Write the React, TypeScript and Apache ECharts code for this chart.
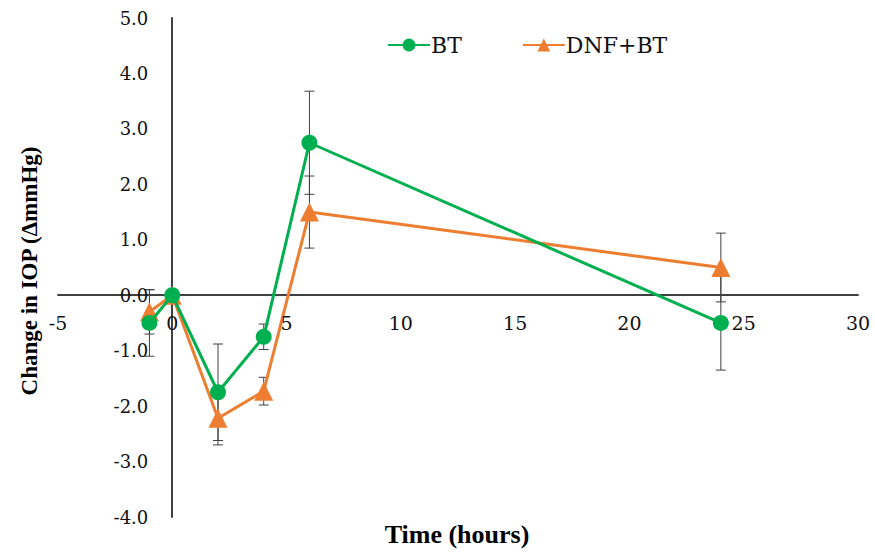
import React, { useEffect, useRef } from "react";
import * as echarts from "echarts";

const times = [-1, 0, 2, 4, 6, 24];
const btMean = [-0.5, 0, -1.75, -0.75, 2.75, -0.5];
const btErr = [0.6, 0, 0.87, 0.23, 0.93, 0.85];
const dnfMean = [-0.3, 0, -2.22, -1.73, 1.5, 0.5];
const dnfErr = [0.4, 0, 0.48, 0.25, 0.65, 0.62];
const seriesNames = ["BT", "DNF+BT"];
const xTicks = [-5, 0, 5, 10, 15, 20, 25, 30];
const yTicks = [-4, -3, -2, -1, 0, 1, 2, 3, 4, 5];
const xTitle = "Time (hours)";
const yTitle = "Change in IOP (\u0394mmHg)";

const TITLE_FONT = "Liberation Serif";
const LABEL_FONT = "DejaVu Serif";
const GREEN = "#00B050";
const ORANGE = "#ED7D31";

function errData(mean: number[], err: number[]) {
  return times.map((t, i) => [t, mean[i] - err[i], mean[i] + err[i]]);
}

function errRender(params: any, api: any) {
  const x = api.value(0);
  const lo = api.coord([x, api.value(1)]);
  const hi = api.coord([x, api.value(2)]);
  if (Math.abs(hi[1] - lo[1]) < 0.5) return { type: "group", children: [] };
  const w = 5;
  const style = { stroke: "#404040", lineWidth: 1 };
  return {
    type: "group",
    children: [
      { type: "line", shape: { x1: lo[0], y1: lo[1], x2: hi[0], y2: hi[1] }, style },
      { type: "line", shape: { x1: lo[0] - w, y1: lo[1], x2: lo[0] + w, y2: lo[1] }, style },
      { type: "line", shape: { x1: hi[0] - w, y1: hi[1], x2: hi[0] + w, y2: hi[1] }, style },
    ],
  };
}

export default function App() {
  const ref = useRef<HTMLDivElement>(null);
  useEffect(() => {
    if (!ref.current) return;
    document.body.style.margin = "0";
    const chart = echarts.init(ref.current, null, { renderer: "svg" });
    chart.setOption({
      animation: false,
      backgroundColor: "#fff",
      grid: { left: 58, right: 17, top: 18, bottom: 35, containLabel: false },
      legend: {
        top: 29,
        left: 382,
        itemGap: 60,
        itemWidth: 42,
        itemHeight: 16,
        textStyle: { fontFamily: LABEL_FONT, fontSize: 22, color: "#111", padding: [0, 0, 0, -4] },
        data: seriesNames,
      },
      xAxis: {
        type: "value",
        min: -5,
        max: 30,
        interval: 5,
        position: "bottom",
        offset: -222,
        splitLine: { show: false },
        axisTick: { show: false },
        axisLine: { onZero: false, lineStyle: { color: "#404040", width: 2 } },
        axisLabel: { show: false },
      },
      yAxis: {
        type: "value",
        min: -4,
        max: 5,
        interval: 1,
        position: "left",
        offset: -114,
        splitLine: { show: false },
        axisTick: { show: false },
        axisLine: { onZero: false, lineStyle: { color: "#404040", width: 2 } },
        axisLabel: { show: false },
      },
      series: [
        {
          type: "custom",
          name: "btErr",
          renderItem: errRender,
          data: errData(btMean, btErr),
          z: 1,
          silent: true,
        },
        {
          type: "custom",
          name: "dnfErr",
          renderItem: errRender,
          data: errData(dnfMean, dnfErr),
          z: 1,
          silent: true,
        },
        {
          type: "line",
          name: seriesNames[0],
          data: times.map((t, i) => [t, btMean[i]]),
          symbol: "circle",
          symbolSize: 16,
          lineStyle: { color: GREEN, width: 3 },
          itemStyle: { color: GREEN },
          z: 3,
        },
        {
          type: "line",
          name: seriesNames[1],
          data: times.map((t, i) => [t, dnfMean[i]]),
          symbol: "triangle",
          symbolSize: 19,
          lineStyle: { color: ORANGE, width: 3 },
          itemStyle: { color: ORANGE },
          z: 2,
        },
      ],
    });

    const graphics: any[] = [
      {
        type: "text",
        x: 457,
        y: 534,
        style: {
          text: xTitle,
          fontFamily: TITLE_FONT,
          fontSize: 26,
          fontWeight: "bold",
          fill: "#000",
          align: "center",
          verticalAlign: "middle",
        },
      },
      {
        type: "text",
        x: 29,
        y: 271,
        rotation: Math.PI / 2,
        style: {
          text: yTitle,
          fontFamily: TITLE_FONT,
          fontSize: 23,
          fontWeight: "bold",
          fill: "#000",
          align: "center",
          verticalAlign: "middle",
        },
      },
    ];
    xTicks.forEach((v) => {
      const p: any = chart.convertToPixel({ gridIndex: 0 } as any, [v, 0]);
      if (!p) return;
      graphics.push({
        type: "text",
        x: p[0],
        y: p[1] + 28,
        z: 10,
        style: {
          text: String(v),
          fontFamily: LABEL_FONT,
          fontSize: 19,
          fill: "#111",
          align: "center",
          verticalAlign: "middle",
        },
      });
    });
    yTicks.forEach((v) => {
      const p: any = chart.convertToPixel({ gridIndex: 0 } as any, [0, v]);
      if (!p) return;
      graphics.push({
        type: "text",
        x: p[0] - 24,
        y: p[1],
        z: 10,
        style: {
          text: v.toFixed(1),
          fontFamily: LABEL_FONT,
          fontSize: 18,
          fill: "#111",
          align: "right",
          verticalAlign: "middle",
        },
      });
    });
    chart.setOption({ graphic: graphics });

    return () => chart.dispose();
  }, []);
  return <div ref={ref} style={{ width: 875, height: 552 }} />;
}
